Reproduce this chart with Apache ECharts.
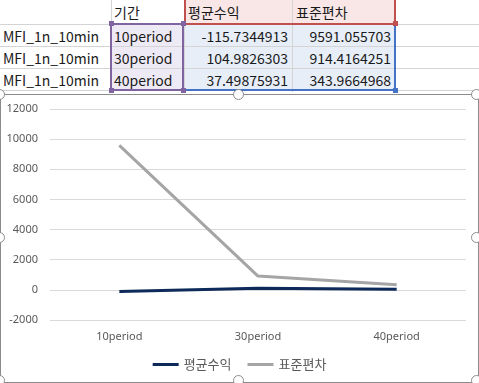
<!DOCTYPE html>
<html><head><meta charset="utf-8">
<script src="https://cdn.jsdelivr.net/npm/echarts@6/dist/echarts.min.js"></script>
<style>
body{margin:0;width:479px;height:383px;overflow:hidden;background:#fff;font-family:"Noto Sans CJK KR","Noto Sans",sans-serif;}
.c{position:absolute;font-size:14px;color:#1a1a1a;line-height:22px;height:22px;white-space:nowrap;}
.h{position:absolute;background:#d4d4d4;}
.b{position:absolute;}
.sq{position:absolute;width:5px;height:5px;}
.hd{position:absolute;width:9px;height:9px;border:1.5px solid #8c8c8c;border-radius:50%;background:#fff;z-index:5;}
#chart{position:absolute;left:0;top:94px;width:477px;height:287px;border:1px solid #8c8c8c;background:#fff;}
</style></head><body>
<div id="sheet"></div>
<div id="chart"></div>
<script>
const rowNames = ['MFI_1n_10min','MFI_1n_10min','MFI_1n_10min'];
const categories = ['10period','30period','40period'];
const seriesNames = ['평균수익','표준편차'];
const headerLabel = '기간';
const avgReturn = [-115.7344913, 104.9826303, 37.49875931];
const stdDev = [9591.055703, 914.4164251, 343.9664968];
const yTicks = {min:-2000, max:12000, interval:2000};

// ---- spreadsheet part ----
const sheet = document.getElementById('sheet');
function el(cls, css, txt){const d=document.createElement('div');d.className=cls;Object.assign(d.style,css);if(txt!==undefined)d.textContent=txt;sheet.appendChild(d);return d;}
const colX=[0,111,184,292,395,479];
const rowY=[0,24,46,68,90];
// fills
el('b',{left:'184px',top:'0px',width:'211px',height:'24px',background:'#f9e7e7'});
el('b',{left:'111px',top:'24px',width:'73px',height:'66px',background:'#eeeaf5'});
el('b',{left:'184px',top:'24px',width:'211px',height:'66px',background:'#e7eef8'});
// gridlines
for(const x of colX.slice(1,5)) el('h',{left:x+'px',top:'0px',width:'1px',height:'92px'});
for(const y of rowY.slice(1)) el('h',{left:'0px',top:y+'px',width:'479px',height:'1px'});
// header
el('c',{left:'114px',top:'1px'},headerLabel);
el('c',{left:'188px',top:'1px'},seriesNames[0]);
el('c',{left:'296px',top:'1px'},seriesNames[1]);
for(let i=0;i<3;i++){
  const t=rowY[i+1]+1;
  el('c',{left:'3px',top:t+'px'},rowNames[i]);
  el('c',{left:'114px',top:t+'px'},categories[i]);
  el('c',{left:'184px',width:'104px',textAlign:'right',top:t+'px'},String(avgReturn[i]));
  el('c',{left:'292px',width:'99px',textAlign:'right',top:t+'px'},String(stdDev[i]));
}
// range borders
const red='#c0504d',pur='#8064a2',blu='#4472c4';
el('b',{left:'184px',top:'0px',width:'2px',height:'24px',background:red});
el('b',{left:'394px',top:'0px',width:'2px',height:'24px',background:red});
el('b',{left:'184px',top:'23px',width:'212px',height:'2px',background:red});
el('b',{left:'111px',top:'23px',width:'73px',height:'2px',background:pur});
el('b',{left:'111px',top:'89px',width:'73px',height:'2px',background:pur});
el('b',{left:'110px',top:'23px',width:'2px',height:'68px',background:pur});
el('b',{left:'182px',top:'23px',width:'2px',height:'68px',background:pur});
el('b',{left:'186px',top:'89px',width:'210px',height:'2px',background:blu});
el('b',{left:'394px',top:'25px',width:'2px',height:'66px',background:blu});
el('sq',{left:'109px',top:'21px',background:pur});
el('sq',{left:'181px',top:'21px',background:pur});
el('sq',{left:'109px',top:'88px',background:pur});
el('sq',{left:'181px',top:'88px',background:pur});
el('sq',{left:'393px',top:'21px',background:red});
el('sq',{left:'393px',top:'88px',background:blu});
// chart handles
for(const [x,y] of [[0,95],[239,95],[477,95],[0,238],[477,238],[0,381],[239,381],[477,381]]){
  el('hd',{left:(x-6)+'px',top:(y-6)+'px'});
}

// ---- chart ----
const chart = echarts.init(document.getElementById('chart'));
chart.setOption({
  animation:false,
  grid:{left:49,right:12,top:14,bottom:62},
  xAxis:{type:'category',data:categories,boundaryGap:true,
    axisLine:{show:false},axisTick:{show:false},
    axisLabel:{color:'#595959',fontSize:11,margin:11,fontFamily:'"Noto Sans","Noto Sans CJK KR",sans-serif'}},
  yAxis:{type:'value',min:yTicks.min,max:yTicks.max,interval:yTicks.interval,
    axisLine:{show:false},axisTick:{show:false},
    splitLine:{lineStyle:{color:'#d9d9d9',width:1}},
    axisLabel:{color:'#595959',fontSize:11,margin:12,formatter:v=>String(v),fontFamily:'"Noto Sans","Noto Sans CJK KR",sans-serif'}},
  legend:{bottom:6,left:'center',icon:'rect',itemWidth:26,itemHeight:3,itemGap:16,
    textStyle:{color:'#595959',fontSize:13,fontFamily:'"Noto Sans CJK KR",sans-serif'},
    data:seriesNames},
  series:[
    {name:seriesNames[0],type:'line',data:avgReturn,symbol:'none',lineStyle:{color:'#0e2a5a',width:3},itemStyle:{color:'#0e2a5a'}},
    {name:seriesNames[1],type:'line',data:stdDev,symbol:'none',lineStyle:{color:'#a5a5a5',width:3},itemStyle:{color:'#a5a5a5'}}
  ]
});
</script></body></html>
